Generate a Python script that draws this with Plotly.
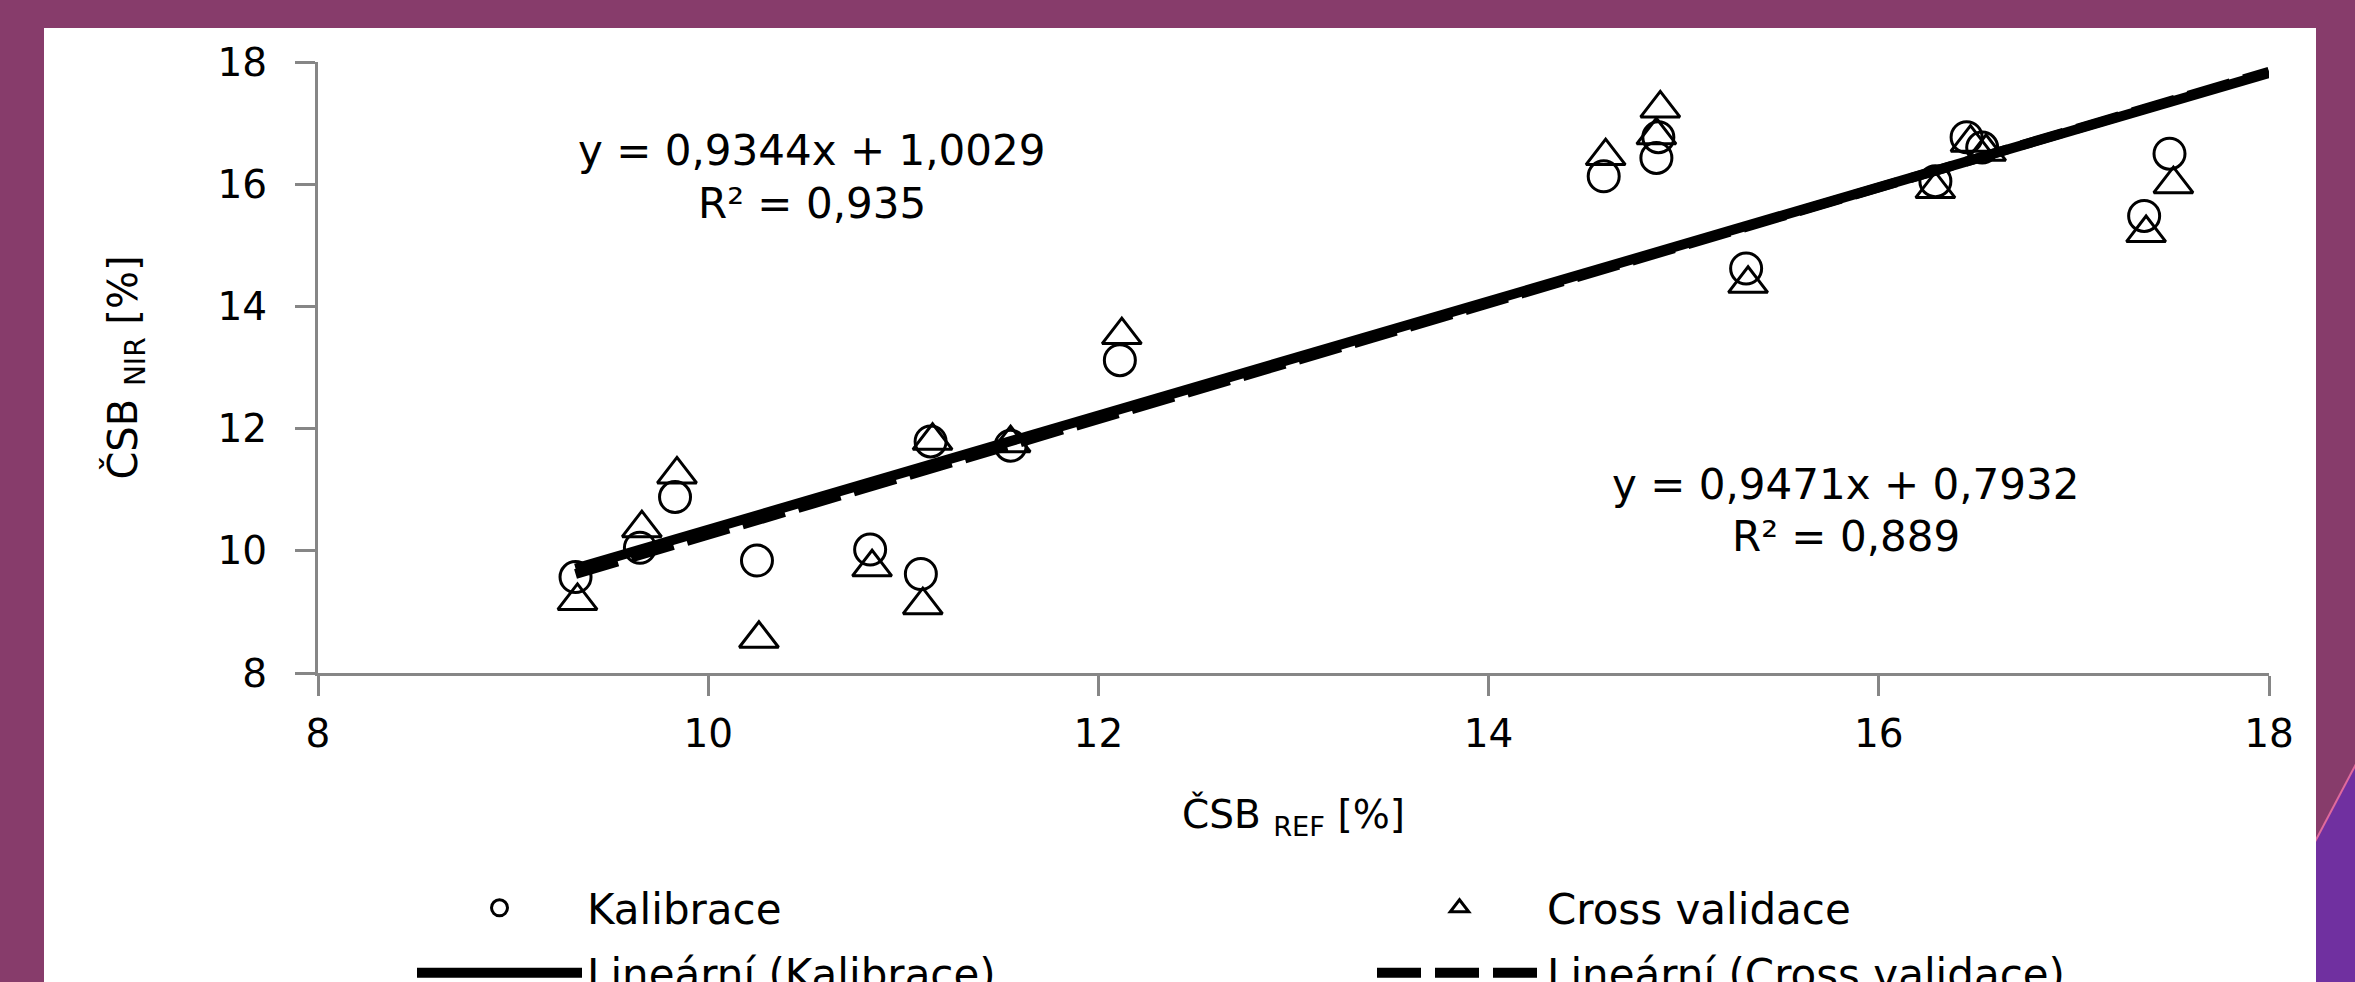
import plotly.graph_objects as go

# ---------------- data ----------------
kal_x = [9.32, 9.65, 9.83, 10.25, 10.83, 11.09, 11.14, 11.55, 12.11,
         14.59, 14.86, 14.87, 15.32, 16.29, 16.45, 16.53, 17.36, 17.49]
kal_y = [9.57, 10.05, 10.88, 9.84, 10.02, 9.62, 11.79, 11.72, 13.12,
         16.13, 16.43, 16.77, 14.62, 16.05, 16.77, 16.60, 15.48, 16.50]

cv_x = [9.33, 9.66, 9.84, 10.26, 10.84, 11.10, 11.15, 11.55, 12.12,
        14.60, 14.88, 14.86, 15.33, 16.29, 16.47, 16.55, 17.37, 17.51]
cv_y = [9.18, 10.37, 11.25, 8.56, 9.73, 9.11, 11.80, 11.76, 13.53,
        16.46, 17.24, 16.80, 14.37, 15.92, 16.68, 16.53, 15.20, 16.00]

trend_x = [9.32, 18.0]
trend_kal_y = [9.71, 17.82]   # y = 0,9344x + 1,0029
trend_cv_y = [9.62, 17.84]    # y = 0,9471x + 0,7932

x_ticks = [8, 10, 12, 14, 16, 18]
y_ticks = [8, 10, 12, 14, 16, 18]

eq_kal = ["y = 0,9344x + 1,0029", "R² = 0,935"]
eq_cv = ["y = 0,9471x + 0,7932", "R² = 0,889"]

# ---------------- geometry / style ----------------
W, H = 2355, 982
ML, MR, MT, MB = 318, 86, 62, 309
PW = W - ML - MR
PH = H - MT - MB

def px(x):
    return (x - ML) / PW

def py(y):
    return (H - MB - y) / PH

FONT = "DejaVu Sans"
AXIS_GREY = "#868686"
BG = "#873C6B"

fig = go.Figure()

fig.add_trace(go.Scatter(
    x=kal_x, y=kal_y, mode="markers", name="Kalibrace", legend="legend",
    marker=dict(symbol="circle-open", size=31, color="black",
                line=dict(width=3, color="black")),
))
fig.add_trace(go.Scatter(
    x=cv_x, y=cv_y, mode="markers", name="Cross validace", legend="legend",
    marker=dict(symbol="triangle-up-open", size=34, color="black",
                line=dict(width=3, color="black")),
))
fig.add_trace(go.Scatter(
    x=trend_x, y=trend_cv_y, mode="lines", name="Lineární (Cross validace)",
    legend="legend2", legendrank=2,
    line=dict(color="black", width=10, dash="44px,14px"),
))
fig.add_trace(go.Scatter(
    x=trend_x, y=trend_kal_y, mode="lines", name="Lineární (Kalibrace)",
    legend="legend2", legendrank=1,
    line=dict(color="black", width=10),
))

shapes = [
    # violet slide decoration in the bottom-right corner
    dict(type="path", xref="paper", yref="paper", layer="below",
         path=(f"M{px(2366)},{py(745)} L{px(2299)},{py(872)} "
               f"L{px(2299)},{py(1000)} L{px(2370)},{py(1000)} L{px(2370)},{py(745)} Z"),
         fillcolor="#7030A0", line=dict(width=0)),
    dict(type="line", xref="paper", yref="paper", layer="below",
         x0=px(2366), y0=py(745), x1=px(2299), y1=py(872),
         line=dict(color="#E06A9C", width=2)),
    # white chart panel
    dict(type="rect", xref="paper", yref="paper", layer="below",
         x0=px(44), x1=px(2316), y0=py(995), y1=py(28),
         fillcolor="white", line=dict(width=0)),
]

annotations = []
for (xx, yy, t) in [(10.53, 16.55, eq_kal[0]), (10.53, 15.69, eq_kal[1]),
                    (15.83, 11.08, eq_cv[0]), (15.83, 10.24, eq_cv[1])]:
    annotations.append(dict(x=xx, y=yy, xref="x", yref="y", text=t,
                            showarrow=False, xanchor="center", yanchor="middle",
                            font=dict(family=FONT, size=42, color="black")))

axis_common = dict(
    showline=True, linecolor=AXIS_GREY, linewidth=3,
    ticks="outside", ticklen=20, tickwidth=3, tickcolor=AXIS_GREY,
    showgrid=False, zeroline=False,
    tickfont=dict(family=FONT, size=39, color="black"),
)

legend_common = dict(
    orientation="h", xanchor="left", yanchor="top",
    font=dict(family=FONT, size=42, color="black"),
    itemwidth=165, entrywidth=780, entrywidthmode="pixels",
    bgcolor="rgba(0,0,0,0)", traceorder="normal",
)

fig.update_layout(
    width=W, height=H,
    margin=dict(l=ML, r=MR, t=MT, b=MB, pad=0, autoexpand=False),
    paper_bgcolor=BG, plot_bgcolor="white",
    font=dict(family=FONT, color="black"),
    xaxis=dict(range=[8, 18], tickvals=x_ticks, ticklabelstandoff=4,
               title=dict(text="ČSB <sub>REF</sub> [%]", standoff=46,
                          font=dict(family=FONT, size=39, color="black")),
               **axis_common),
    yaxis=dict(range=[8, 18], tickvals=y_ticks, ticklabelstandoff=20,
               title=dict(text="ČSB <sub>NIR</sub> [%]", standoff=68,
                          font=dict(family=FONT, size=40, color="black")),
               **axis_common),
    showlegend=True,
    legend=dict(x=px(412), y=py(874), **legend_common),
    legend2=dict(x=px(412), y=py(939), **legend_common),
    shapes=shapes,
    annotations=annotations,
)

fig.write_html(
    "out.html",
    config={"displayModeBar": False},
    post_script="document.body.style.margin='0';document.body.style.overflow='hidden';"
                "document.body.style.background='" + BG + "';",
)
